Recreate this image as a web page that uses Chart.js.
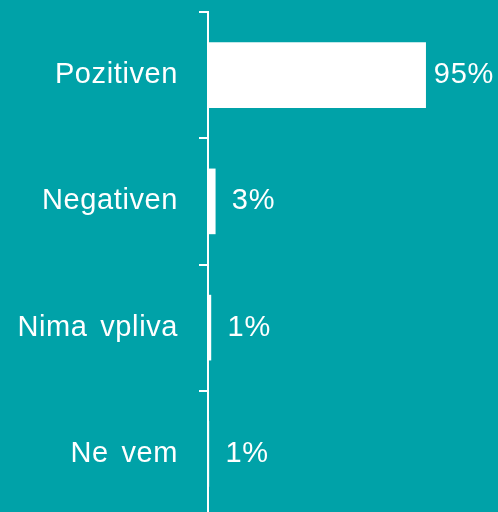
<!DOCTYPE html>
<html>
<head>
<meta charset="utf-8">
<script src="https://cdn.jsdelivr.net/npm/chart.js@4"></script>
<style>
  html, body { margin: 0; padding: 0; background: #00A2A8; overflow: hidden; }
  #wrap { position: relative; width: 498px; height: 517px; }
</style>
</head>
<body>
<div id="wrap"><canvas id="c"></canvas></div>
<script>
const categories = ['Pozitiven', 'Negativen', 'Nima vpliva', 'Ne vem'];
const values = [95, 3.3, 1.4, 0.5];
const valueLabels = ['95%', '3%', '1%', '1%'];

const FONT = '"Liberation Sans", Arial, sans-serif';

const spacingPlugin = {
  id: 'spacing',
  beforeDraw(chart) {
    chart.ctx.letterSpacing = '0.6px';
    chart.ctx.wordSpacing = '4px';
  }
};

const labelPlugin = {
  id: 'valueLabels',
  afterDatasetsDraw(chart) {
    const ctx = chart.ctx;
    const meta = chart.getDatasetMeta(0);
    ctx.save();
    ctx.letterSpacing = '0.8px';
    ctx.fillStyle = '#ffffff';
    ctx.font = '29px ' + FONT;
    ctx.textAlign = 'center';
    ctx.textBaseline = 'middle';
    meta.data.forEach((bar, i) => {
      ctx.fillText(valueLabels[i], bar.x + 38, bar.y);
    });
    ctx.restore();
  }
};

new Chart(document.getElementById('c'), {
  type: 'bar',
  data: {
    labels: categories,
    datasets: [{
      data: values,
      backgroundColor: '#ffffff',
      borderWidth: 0,
      barPercentage: 1,
      categoryPercentage: 0.52
    }]
  },
  options: {
    indexAxis: 'y',
    responsive: true,
    maintainAspectRatio: false,
    animation: false,
    layout: { padding: { top: 12, right: 0, bottom: 0, left: 0 } },
    plugins: { legend: { display: false }, tooltip: { enabled: false } },
    scales: {
      x: {
        display: false,
        min: 0,
        max: 126.4
      },
      y: {
        afterFit(scale) {
          scale.width = 208;
          scale.paddingTop = 0;
          scale.paddingBottom = 0;
        },
        grid: {
          display: true,
          drawOnChartArea: false,
          drawTicks: true,
          tickLength: 9,
          color: '#ffffff',
          lineWidth: 2,
          offset: true
        },
        border: { display: true, color: '#ffffff', width: 2 },
        ticks: {
          color: '#ffffff',
          font: { family: FONT, size: 29 },
          padding: 21,
          autoSkip: false
        }
      }
    }
  },
  plugins: [spacingPlugin, labelPlugin]
});
</script>
</body>
</html>
